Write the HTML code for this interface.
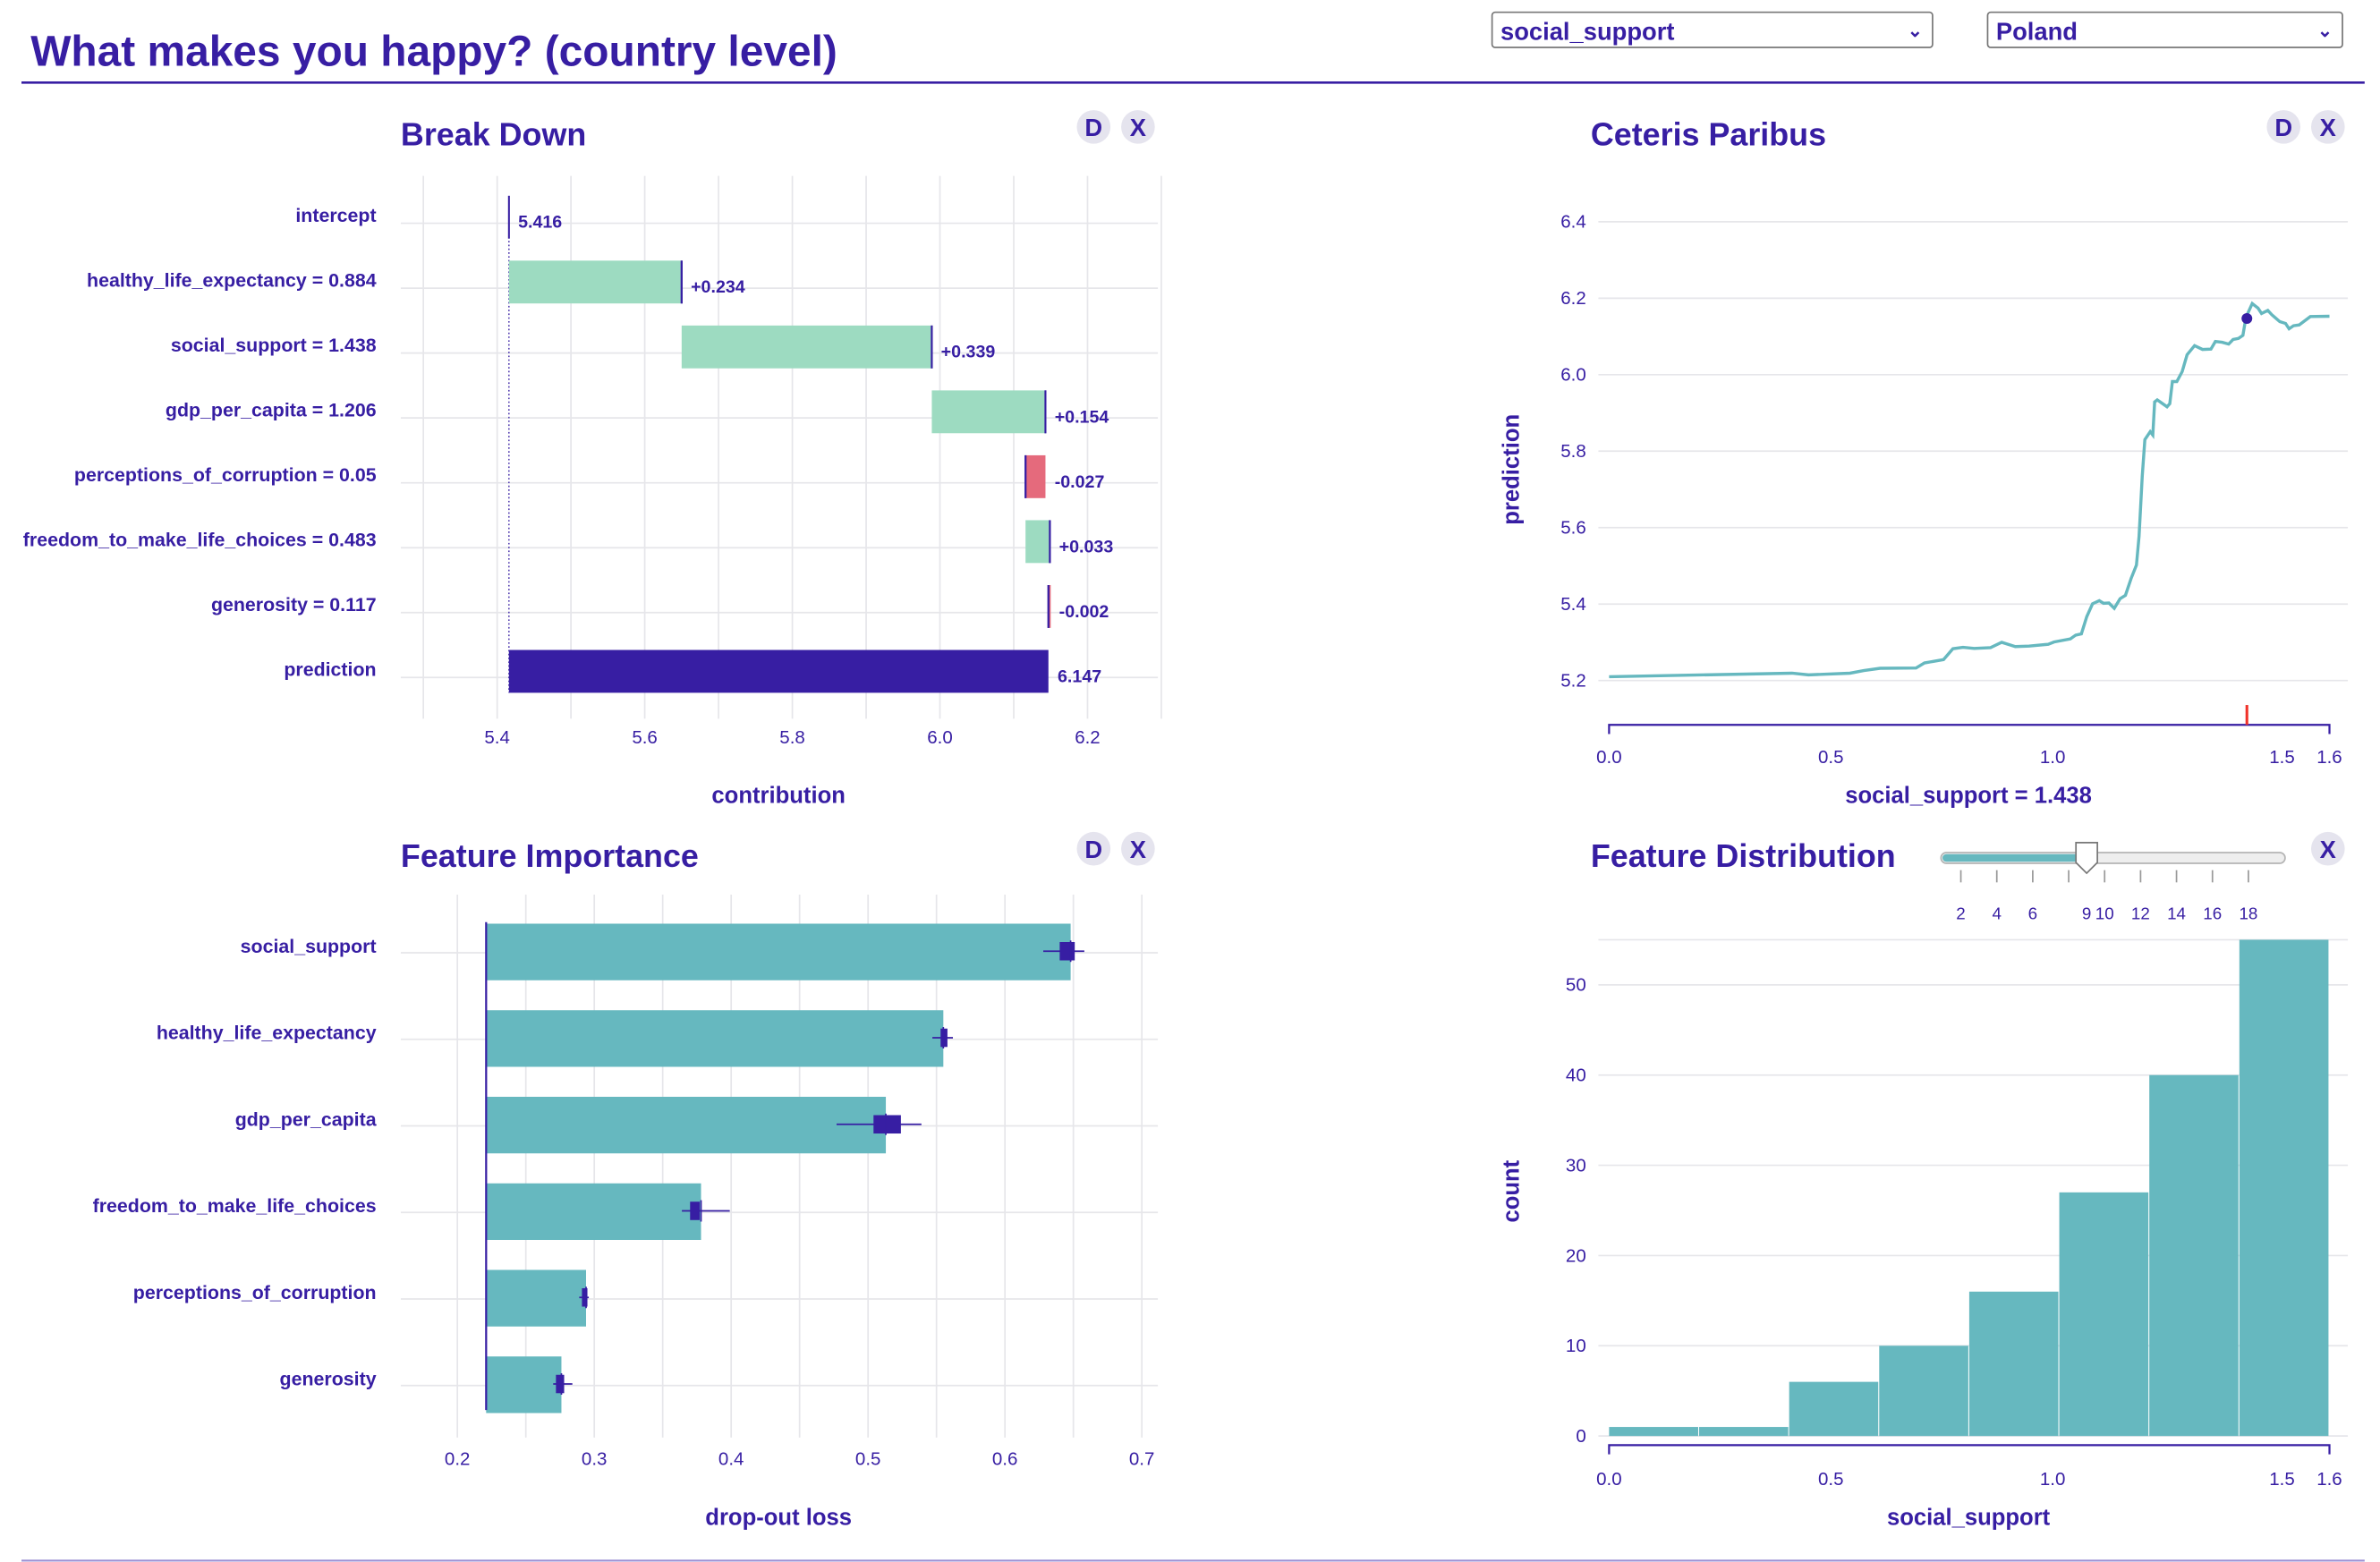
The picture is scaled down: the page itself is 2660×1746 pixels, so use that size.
<!DOCTYPE html>
<html><head><meta charset="utf-8"><title>What makes you happy?</title>
<style>
html,body{margin:0;padding:0;background:#fff;}
svg{display:block;font-family:"Liberation Sans",sans-serif;}
text{fill:#371ea3;}
.b{font-weight:bold;}
</style></head>
<body>
<svg id="root" width="2660" height="1746" viewBox="0 0 1556 1021.4" xmlns="http://www.w3.org/2000/svg">
<g>
<text x="20" y="43" class="b" font-size="28">What makes you happy? (country level)</text>
<line x1="14" y1="54" x2="1546" y2="54" stroke="#371ea3" stroke-width="1.6"/>
<g>
<rect x="975.5" y="8" width="288" height="23" rx="2" fill="#fff" stroke="#777" stroke-width="1"/>
<text x="981" y="26" class="b" font-size="16">social_support</text>
<text x="1247" y="24" class="b" font-size="12">⌄</text>
</g>
<g>
<rect x="1299.5" y="8" width="232" height="23" rx="2" fill="#fff" stroke="#777" stroke-width="1"/>
<text x="1305" y="26" class="b" font-size="16">Poland</text>
<text x="1515" y="24" class="b" font-size="12">⌄</text>
</g>
</g>
<g id="bd"></g>
<g id="fi"></g>
<g id="cp"></g>
<g id="fd"></g>
<g>
<line x1="14" y1="1020.5" x2="1546" y2="1020.5" stroke="#9e92d4" stroke-width="1.2"/>
<text x="1185" y="1033" font-size="10" class="b">Site built with modelStudio v3.0.0 on 2023-10-10 21:21:12</text>
</g>
</svg>
<script>
// ---- Break Down data ----
const bdLabels = ["intercept","healthy_life_expectancy = 0.884","social_support = 1.438","gdp_per_capita = 1.206","perceptions_of_corruption = 0.05","freedom_to_make_life_choices = 0.483","generosity = 0.117","prediction"];
const bdContrib = [5.416, 0.234, 0.339, 0.154, -0.027, 0.033, -0.002, 6.147];
const bdValueText = ["5.416","+0.234","+0.339","+0.154","-0.027","+0.033","-0.002","6.147"];
const bdTicks = [5.4, 5.6, 5.8, 6.0, 6.2];
// ---- Feature Importance data ----
const fiLabels = ["social_support","healthy_life_expectancy","gdp_per_capita","freedom_to_make_life_choices","perceptions_of_corruption","generosity"];
const fiBaseline = 0.221;
const fiValues = [0.648, 0.555, 0.513, 0.378, 0.294, 0.276];
const fiBoxLo = [0.640, 0.553, 0.504, 0.370, 0.291, 0.272];
const fiBoxHi = [0.651, 0.558, 0.524, 0.377, 0.295, 0.278];
const fiWhiskLo = [0.628, 0.547, 0.477, 0.364, 0.289, 0.270];
const fiWhiskHi = [0.658, 0.562, 0.539, 0.399, 0.296, 0.284];
const fiTicks = [0.2, 0.3, 0.4, 0.5, 0.6, 0.7];
// ---- Ceteris Paribus data ----
const cpX = [0,0.4125,0.4498,0.543,0.574,0.611,0.692,0.711,0.754,0.775,0.798,0.823,0.860,0.885,0.916,0.947,0.990,1.003,1.040,1.052,1.065,1.077,1.090,1.105,1.115,1.127,1.139,1.152,1.164,1.177,1.189,1.195,1.202,1.208,1.220,1.226,1.230,1.236,1.258,1.264,1.270,1.280,1.292,1.303,1.320,1.338,1.357,1.367,1.382,1.397,1.407,1.419,1.429,1.436,1.450,1.463,1.471,1.485,1.494,1.512,1.525,1.533,1.543,1.556,1.581,1.624];
const cpY = [5.21,5.219,5.215,5.219,5.226,5.232,5.233,5.246,5.255,5.283,5.287,5.284,5.286,5.300,5.289,5.290,5.295,5.301,5.309,5.319,5.322,5.367,5.401,5.409,5.402,5.403,5.389,5.414,5.423,5.467,5.502,5.577,5.735,5.830,5.851,5.842,5.929,5.934,5.916,5.924,5.982,5.982,6.008,6.052,6.076,6.066,6.067,6.087,6.085,6.080,6.092,6.095,6.103,6.150,6.186,6.174,6.160,6.168,6.157,6.139,6.134,6.120,6.128,6.130,6.152,6.153];
const cpObsX = [1.438];
const cpObsY = [6.147];
const cpYTicks = [5.2, 5.4, 5.6, 5.8, 6.0, 6.2, 6.4];
const xTicks = [0.0, 0.5, 1.0, 1.5, 1.624];
const xTickLabels = ["0.0","0.5","1.0","1.5","1.6"];
// ---- Feature Distribution data ----
const histEdges = [0, 0.203, 0.406, 0.609, 0.812, 1.015, 1.218, 1.421, 1.624];
const histCounts = [1, 1, 6, 10, 16, 27, 40, 55];
const histYTicks = [0, 10, 20, 30, 40, 50];
const sliderTicks = [2, 4, 6, 8, 10, 12, 14, 16, 18];
const sliderLabels = ["2","4","6","9","10","12","14","16","18"];
const sliderLabelVals = [2, 4, 6, 9, 10, 12, 14, 16, 18];
const sliderValue = 9;

const NS = "http://www.w3.org/2000/svg";
function mk(parent, tag, attrs, txt) {
  const e = document.createElementNS(NS, tag);
  for (const k in attrs) e.setAttribute(k, attrs[k]);
  if (txt !== undefined) e.textContent = txt;
  parent.appendChild(e);
  return e;
}
function btn(parent, cx, cy, label) {
  const g = mk(parent, "g", {});
  
  
  mk(g, "circle", {cx: cx, cy: cy, r: 11, fill: "#e5e4ee"});
  mk(g, "text", {x: cx, y: cy + 6, "text-anchor": "middle", "font-size": 16, "font-weight": "bold"}, label);
}
function title(parent, x, y, t) {
  const e = mk(parent, "text", {x: x, y: y, "font-size": 21, "font-weight": "bold"}, t);
  
  
}
const grid = "#e6e6ea";

// ===== Break Down =====
(function(){
  const g = document.getElementById("bd");
  title(g, 262, 95, "Break Down");
  btn(g, 715, 83, "D"); btn(g, 744, 83, "X");
  const x = v => 325 + (v - 5.4) * 482.5;
  const rowY = i => 140 + i * 42.43;
  for (let v = 5.3; v <= 6.31; v += 0.1) mk(g, "line", {x1: x(v), x2: x(v), y1: 115, y2: 470, stroke: grid, "stroke-width": 1});
  bdLabels.forEach((l, i) => mk(g, "line", {x1: 262, x2: 757, y1: rowY(i) + 6, y2: rowY(i) + 6, stroke: grid, "stroke-width": 1}));
  bdTicks.forEach(t => {
    const e = mk(g, "text", {x: x(t), y: 486, "text-anchor": "middle", "font-size": 12}, t.toFixed(1));
     
  });
  const at = mk(g, "text", {x: 509, y: 525, "text-anchor": "middle", "font-size": 15, "font-weight": "bold"}, "contribution");
   
  const intercept = bdContrib[0];
  mk(g, "line", {x1: x(intercept), x2: x(intercept), y1: rowY(0), y2: rowY(7) + 16, stroke: "#371ea3", "stroke-width": 0.8, "stroke-dasharray": "1,1.5"});
  let cum = intercept;
  bdLabels.forEach((l, i) => {
    const y = rowY(i);
    const lab = mk(g, "text", {x: 246, y: y + 5, "text-anchor": "end", "font-size": 12.5, "font-weight": "bold"}, l);
     
    let x0, x1, fill, end;
    if (i === 0) { x0 = x1 = x(intercept); end = x0; }
    else if (i === bdLabels.length - 1) { x0 = x(intercept); x1 = x(bdContrib[i]); fill = "#371ea3"; end = x1; }
    else { const nc = cum + bdContrib[i]; x0 = x(Math.min(cum, nc)); x1 = x(Math.max(cum, nc)); fill = bdContrib[i] >= 0 ? "#9ddbc1" : "#e56a7c"; end = x(nc); cum = nc; }
    if (fill) {
      const r = mk(g, "rect", {x: x0, y: y - 12, width: Math.max(x1 - x0, 1.5), height: 28, fill: fill});
       
    }
    if (i < bdLabels.length - 1) mk(g, "line", {x1: end, x2: end, y1: y - 12, y2: y + 16 + (i === 0 ? 0 : 0), stroke: "#371ea3", "stroke-width": 1.2});
    if (i > 0 && i < bdLabels.length - 1) mk(g, "line", {x1: end, x2: end, y1: y - 12, y2: y + 16, stroke: "#371ea3", "stroke-width": 1.2});
    const vt = mk(g, "text", {x: Math.max(x0, x1, end) + 6, y: y + 9, "font-size": 11.5, "font-weight": "bold"}, bdValueText[i]);
     
  });
})();

// ===== Feature Importance =====
(function(){
  const g = document.getElementById("fi");
  title(g, 262, 567, "Feature Importance");
  btn(g, 715, 555, "D"); btn(g, 744, 555, "X");
  const x = v => 299 + (v - 0.2) * 895;
  const rowY = i => 618 + i * 56.6;
  for (let v = 0.2; v <= 0.701; v += 0.05) mk(g, "line", {x1: x(v), x2: x(v), y1: 585, y2: 940, stroke: grid, "stroke-width": 1});
  fiLabels.forEach((l, i) => mk(g, "line", {x1: 262, x2: 757, y1: rowY(i) + 5, y2: rowY(i) + 5, stroke: grid, "stroke-width": 1}));
  fiTicks.forEach(t => {
    const e = mk(g, "text", {x: x(t), y: 958, "text-anchor": "middle", "font-size": 12}, t.toFixed(1));
     
  });
  const at = mk(g, "text", {x: 509, y: 997, "text-anchor": "middle", "font-size": 15, "font-weight": "bold"}, "drop-out loss");
   
  fiLabels.forEach((l, i) => {
    const y = rowY(i);
    const lab = mk(g, "text", {x: 246, y: y + 5, "text-anchor": "end", "font-size": 12.5, "font-weight": "bold"}, l);
     
    const r = mk(g, "rect", {x: x(fiBaseline), y: y - 14, width: x(fiValues[i]) - x(fiBaseline), height: 37, fill: "#66b8bf"});
     
    mk(g, "line", {x1: x(fiWhiskLo[i]), x2: x(fiWhiskHi[i]), y1: y + 4, y2: y + 4, stroke: "#371ea3", "stroke-width": 1});
    mk(g, "rect", {x: x(fiBoxLo[i]), y: y - 2, width: Math.max(x(fiBoxHi[i]) - x(fiBoxLo[i]), 2), height: 12, fill: "#371ea3"});
    mk(g, "line", {x1: x(fiValues[i]), x2: x(fiValues[i]), y1: y - 3, y2: y + 11, stroke: "#371ea3", "stroke-width": 1});
  });
  mk(g, "line", {x1: x(fiBaseline), x2: x(fiBaseline), y1: 603, y2: 922, stroke: "#371ea3", "stroke-width": 1.3});
})();

// shared x-scale for right panels
const xr = v => 1052 + v * 290;

// ===== Ceteris Paribus =====
(function(){
  const g = document.getElementById("cp");
  title(g, 1040, 95, "Ceteris Paribus");
  btn(g, 1493, 83, "D"); btn(g, 1522, 83, "X");
  const y = v => 445 - (v - 5.2) * 250;
  cpYTicks.forEach(t => {
    mk(g, "line", {x1: 1045, x2: 1535, y1: y(t), y2: y(t), stroke: grid, "stroke-width": 1});
    const e = mk(g, "text", {x: 1037, y: y(t) + 4, "text-anchor": "end", "font-size": 12}, t.toFixed(1));
     
  });
  const yt = mk(g, "text", {x: 993, y: 307, "text-anchor": "middle", "font-size": 15, "font-weight": "bold", transform: "rotate(-90 993 307)"}, "prediction");
   
  mk(g, "path", {d: "M1052 480 V474 H1523 V480", fill: "none", stroke: "#371ea3", "stroke-width": 1.3});
  xTicks.forEach((t, i) => {
    const e = mk(g, "text", {x: xr(t) + (i === 3 ? 5 : 0), y: 499, "text-anchor": "middle", "font-size": 12}, xTickLabels[i]);
     
  });
  const xt = mk(g, "text", {x: 1287, y: 525, "text-anchor": "middle", "font-size": 15, "font-weight": "bold"}, "social_support = 1.438");
   
  const rug = mk(g, "line", {x1: xr(cpObsX[0]), x2: xr(cpObsX[0]), y1: 461, y2: 474, stroke: "#f0322a", "stroke-width": 1.8});
   
  const d = cpX.map((v, i) => (i ? "L" : "M") + xr(v).toFixed(1) + " " + y(cpY[i]).toFixed(1)).join(" ");
  const p = mk(g, "path", {d: d, fill: "none", stroke: "#66b8bf", "stroke-width": 2});
   
  const c = mk(g, "circle", {cx: xr(cpObsX[0]), cy: y(cpObsY[0]), r: 3.5, fill: "#371ea3"});
   
})();

// ===== Feature Distribution =====
(function(){
  const g = document.getElementById("fd");
  title(g, 1040, 567, "Feature Distribution");
  btn(g, 1522, 555, "X");
  // slider
  const sx = v => 1282 + (v - 2) * 11.75;
  const sl = mk(g, "g", {});
   
  mk(sl, "rect", {x: 1269, y: 557.5, width: 225, height: 7, rx: 3.5, fill: "#eeeeee", stroke: "#b5b5b5", "stroke-width": 1});
  mk(sl, "rect", {x: 1270, y: 558.5, width: sx(sliderValue) - 1270, height: 5, rx: 2.5, fill: "#66b8bf"});
  sliderTicks.forEach(t => mk(sl, "line", {x1: sx(t), x2: sx(t), y1: 569, y2: 577, stroke: "#999", "stroke-width": 1}));
  sliderLabels.forEach((l, i) => mk(sl, "text", {x: sx(sliderLabelVals[i]), y: 601, "text-anchor": "middle", "font-size": 11}, l));
  mk(sl, "path", {d: `M${sx(sliderValue)-7} 551 H${sx(sliderValue)+7} V564 L${sx(sliderValue)} 571 L${sx(sliderValue)-7} 564 Z`, fill: "#fff", stroke: "#777", "stroke-width": 1});
  const y = v => 939 - v * 5.9;
  mk(g, "line", {x1: 1045, x2: 1535, y1: y(55), y2: y(55), stroke: grid, "stroke-width": 1});
  histYTicks.forEach(t => {
    mk(g, "line", {x1: 1045, x2: 1535, y1: y(t), y2: y(t), stroke: grid, "stroke-width": 1});
    const e = mk(g, "text", {x: 1037, y: y(t) + 4, "text-anchor": "end", "font-size": 12}, String(t));
     
  });
  histCounts.forEach((c, i) => {
    const r = mk(g, "rect", {x: xr(histEdges[i]), y: y(c), width: xr(histEdges[i + 1]) - xr(histEdges[i]) - 0.6, height: y(0) - y(c), fill: "#66b8bf"});
     
  });
  const yt = mk(g, "text", {x: 993, y: 779, "text-anchor": "middle", "font-size": 15, "font-weight": "bold", transform: "rotate(-90 993 779)"}, "count");
   
  mk(g, "path", {d: "M1052 951 V945 H1523 V951", fill: "none", stroke: "#371ea3", "stroke-width": 1.3});
  xTicks.forEach((t, i) => {
    const e = mk(g, "text", {x: xr(t) + (i === 3 ? 5 : 0), y: 971, "text-anchor": "middle", "font-size": 12}, xTickLabels[i]);
     
  });
  const xt = mk(g, "text", {x: 1287, y: 997, "text-anchor": "middle", "font-size": 15, "font-weight": "bold"}, "social_support");
   
})();
</script>
</body></html>
